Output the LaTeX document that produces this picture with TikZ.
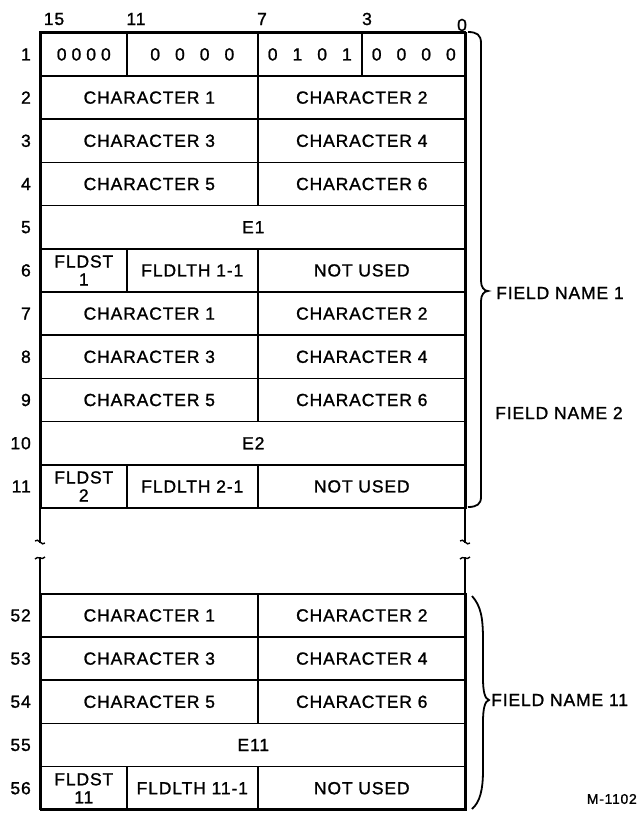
\documentclass[tikz,border=0pt]{standalone}
\usepackage{fontspec}
\setmainfont{Liberation Sans}[LetterSpace=5, FakeBold=1.2]
\usetikzlibrary{positioning}

\begin{document}
\begin{tikzpicture}[
    x=1pt, y=-1pt,
    cell/.style={
        draw=black,
        line width=1.6pt,
        anchor=north west,
        minimum height=43.2pt,
        inner sep=0pt,
        align=center,
        font=\fontsize{17.5}{18}\selectfont
    },
    num/.style={
        inner sep=0pt,
        font=\fontsize{17.5}{18}\selectfont
    },
    outline/.style={
        line width=2.6pt,
        line join=miter
    },
    brace/.style={
        line width=1.8pt
    }
]
\useasboundingbox (0,0) rectangle (638,815);

% Bit positions
\foreach \b/\x/\y in {15/54/19, 11/136/19, 7/262/19, 3/367/19, 0/462/25}
    \node[num] (bit\b) at (\x,\y) {\b};

% Word 1
\node[cell, minimum width=86pt]  (w1-a) at (40,32)  {0\hspace{5pt}0\hspace{5pt}0\hspace{5pt}0};
\node[cell, minimum width=131pt] (w1-b) at (126,32) {0\hspace{15pt}0\hspace{15pt}0\hspace{15pt}0};
\node[cell, minimum width=104pt] (w1-c) at (257,32) {0\hspace{15pt}1\hspace{15pt}0\hspace{15pt}1};
\node[cell, minimum width=104pt] (w1-d) at (361,32) {0\hspace{15pt}0\hspace{15pt}0\hspace{15pt}0};

% Character words
\foreach \r/\y/\a/\b in {2/75.2/1/2, 3/118.4/3/4, 4/161.6/5/6,
                         7/291.2/1/2, 8/334.4/3/4, 9/377.6/5/6,
                         52/593/1/2, 53/636.2/3/4, 54/679.4/5/6} {
    \node[cell, minimum width=217pt] (w\r-a) at (40,\y)  {CHARACTER \a};
    \node[cell, minimum width=208pt] (w\r-b) at (257,\y) {CHARACTER \b};
}

% E words
\node[cell, minimum width=425pt] (w5-a)  at (40,204.8) {E1};
\node[cell, minimum width=425pt] (w10-a) at (40,420.8) {E2};
\node[cell, minimum width=425pt] (w55-a) at (40,722.6) {E11};

% Start / length words
\foreach \r/\y/\f in {6/248/1, 11/464/2, 56/765.8/11} {
    \node[cell, minimum width=86pt]  (w\r-a) at (40,\y)  {FLDST\\\f};
    \node[cell, minimum width=131pt] (w\r-b) at (126,\y) {FLDLTH \f-1};
    \node[cell, minimum width=208pt] (w\r-c) at (257,\y) {NOT USED};
}

% Word numbers
\foreach \r in {1,...,11,52,53,...,56}
    \node[num, left=9pt of w\r-a] (n\r) {\r};

% Outer frame with break
\draw[outline] (40,543) -- (40,32) -- (465,32) -- (465,543);
\draw[outline] (40,557) -- (40,809) -- (465,809) -- (465,557);
\foreach \x in {40,465} {
    \draw[line width=1.4pt] (\x-5,541) .. controls (\x-2,537) and (\x+2,547) .. (\x+5,543);
    \draw[line width=1.4pt] (\x-5,559) .. controls (\x-2,555) and (\x+2,561) .. (\x+5,557);
}

% Braces
\draw[brace] (468,32) .. controls (477,32) and (481,35) .. (481,43)
    -- (481,281) .. controls (481,287) and (484,291) .. (488,291)
    .. controls (484,291) and (481,295) .. (481,301)
    -- (481,497) .. controls (481,504) and (477,507) .. (468,507);
\draw[brace] (472,596) .. controls (481,606) and (483,618) .. (483,640)
    -- (483,678) .. controls (483,692) and (485,699) .. (489,700)
    .. controls (485,701) and (483,708) .. (483,722)
    -- (483,770) .. controls (483,790) and (480,802) .. (472,809);

% Field names
\node[num, anchor=west] (fn1)  at (496,293) {FIELD NAME 1};
\node[num, anchor=west] (fn2)  at (495,413) {FIELD NAME 2};
\node[num, anchor=west] (fn11) at (491,700) {FIELD NAME 11};
\node[num, anchor=east, font=\fontsize{14}{15}\selectfont] (fig) at (637,799) {M-1102};

\end{tikzpicture}
\end{document}
